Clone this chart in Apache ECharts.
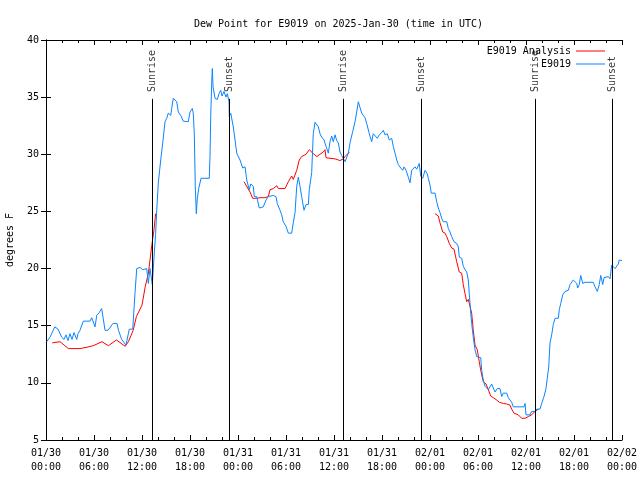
<!DOCTYPE html>
<html>
<head>
<meta charset="utf-8">
<script src="https://cdn.jsdelivr.net/npm/echarts@6/dist/echarts.min.js"></script>
<style>html,body{margin:0;padding:0;background:#fff}#c{width:640px;height:480px}</style>
</head>
<body>
<div id="c"></div>
<script>
// hours since 2025-01-30 00:00 UTC
const blueTimes = [0.09,0.5,1.1,1.5,1.96,2.25,2.5,2.75,3.0,3.25,3.5,3.84,4.0,4.25,4.66,5.5,5.71,6.13,6.34,6.6,6.96,7.38,7.75,8.38,8.88,9.06,9.46,10.0,10.41,10.84,11.13,11.34,11.75,12.1,12.59,12.79,13.0,13.29,13.5,13.7,13.84,14.04,14.34,14.59,14.88,15.09,15.29,15.59,15.71,15.91,16.34,16.54,16.84,17.16,17.79,18.0,18.29,18.41,18.54,18.66,18.79,18.91,19.09,19.38,20.41,20.5,20.59,20.71,20.79,20.88,21.13,21.41,21.63,21.84,22.0,22.25,22.5,22.66,22.88,22.91,23.09,23.41,23.63,23.84,24.25,24.59,24.88,25.09,25.41,25.59,25.91,26.04,26.34,26.66,27.16,27.5,27.79,28.41,28.75,28.91,29.25,29.46,29.66,30.0,30.29,30.71,30.91,31.13,31.34,31.54,31.75,31.96,32.25,32.5,32.79,32.91,33.21,33.41,33.63,33.84,34.04,34.25,34.46,34.75,35.0,35.29,35.5,35.71,35.91,36.13,36.34,36.54,36.75,36.96,37.16,37.38,37.59,37.79,38.0,38.34,38.63,38.84,39.04,39.25,39.46,39.66,39.88,40.09,40.41,40.71,40.91,41.13,41.41,41.66,41.96,42.16,42.38,42.66,42.91,43.21,43.41,43.63,43.84,44.04,44.34,44.59,44.75,45.0,45.29,45.5,45.71,46.13,46.34,46.66,46.84,47.09,47.38,47.66,47.79,48.0,48.16,48.41,48.63,48.84,49.04,49.25,49.46,49.66,50.09,50.29,50.5,50.71,51.0,51.34,51.54,51.66,51.96,52.16,52.38,52.59,52.79,52.91,53.09,53.21,53.41,53.63,53.84,54.04,54.34,54.46,54.66,54.88,55.09,55.29,55.5,55.71,55.91,56.13,56.41,56.75,56.96,57.16,57.59,57.79,58.0,58.21,58.41,59.75,59.88,60.0,60.5,60.71,61.13,61.34,61.75,61.96,62.25,62.5,62.66,62.84,63.0,63.21,63.41,63.63,64.04,64.16,64.34,64.59,64.88,65.29,65.5,65.91,66.13,66.34,66.46,66.66,66.84,67.09,67.38,68.41,68.63,68.91,69.16,69.34,69.59,69.75,70.0,70.29,70.5,70.66,70.71,70.91,71.13,71.34,71.54,71.66,72.0];
const blueValues = [13.6,14.0,14.9,14.7,14.0,13.8,14.2,13.7,14.3,13.8,14.4,13.8,14.3,14.6,15.4,15.4,15.7,14.9,15.9,16.1,16.5,14.6,14.6,15.2,15.2,14.6,13.8,13.3,14.7,14.7,17.9,20.0,20.1,19.9,20.0,18.7,20.0,18.6,21.0,23.0,25.1,27.5,29.5,31.0,32.85,33.15,33.6,33.4,34.0,34.9,34.6,33.7,33.4,32.9,32.85,33.7,34.0,33.6,31.7,27.2,24.8,26.1,27.0,27.9,27.9,29.8,33.3,36.2,37.5,35.9,34.9,34.8,35.3,35.6,35.1,35.5,35.0,35.3,34.6,33.3,33.6,32.4,31.25,30.1,29.5,28.8,28.9,27.75,26.9,27.4,27.2,26.3,26.3,25.3,25.4,26.0,26.3,26.4,26.3,25.7,25.1,24.7,24.1,23.7,23.1,23.1,24.0,24.9,27.2,28.0,27.2,26.3,25.1,25.6,25.6,26.9,28.4,31.8,32.8,32.7,32.4,31.8,31.5,31.25,30.7,30.1,31.1,31.6,31.1,31.7,31.2,31.0,30.2,29.9,30.0,29.35,29.4,30.1,31.0,32.0,32.85,33.7,34.6,34.1,33.6,33.7,33.2,32.7,31.8,31.1,31.8,31.8,31.4,31.7,31.9,32.1,31.7,31.8,31.25,31.4,30.7,30.1,29.5,29.1,28.8,28.6,28.9,28.6,28.0,27.5,28.6,28.9,28.7,29.2,28.1,27.9,28.6,28.3,27.9,27.3,26.6,26.5,26.6,25.85,25.3,24.9,24.4,24.1,24.1,23.5,23.2,22.8,22.35,22.2,21.9,21.0,20.9,20.2,19.9,19.7,19.0,17.8,16.1,15.2,14.0,12.9,12.3,12.2,12.2,11.1,10.25,9.7,9.8,9.4,9.55,9.9,9.8,9.2,9.5,9.5,8.8,9.1,9.1,8.7,8.5,8.3,7.9,7.9,8.2,7.2,7.2,7.5,7.5,7.7,7.7,8.2,8.8,9.5,10.4,11.4,13.5,14.2,15.1,15.65,15.65,16.4,16.95,17.7,18.0,18.1,18.6,19.0,19.15,18.7,18.3,18.6,19.4,18.7,18.8,18.8,18.4,18.0,18.6,19.4,18.6,19.2,19.1,19.3,19.1,19.0,20.3,20.3,20.0,19.9,20.4,20.75,20.7];

const redTimes = [0.79,1.75,2.8,4.25,5.0,5.9,7.0,7.8,8.8,9.5,9.9,10.3,10.9,11.3,12.0,12.4,12.8,13.2,13.5,13.7,14.0,
  24.75,25.5,25.84,26.34,26.75,27.38,27.79,28.0,28.41,28.84,29.04,29.88,30.29,30.71,30.91,31.34,31.66,31.96,32.5,32.91,33.34,33.84,34.25,34.66,34.88,35.0,35.5,36.13,36.75,37.16,37.38,37.5,37.79,37.91,38.2,
  48.63,49.04,49.25,49.59,49.88,50.09,50.41,50.71,51.0,51.34,51.66,51.96,52.16,52.38,52.59,52.79,53.21,53.41,53.63,53.91,54.16,54.34,54.66,55.0,55.29,55.59,55.91,56.34,56.66,57.16,57.59,58.0,58.21,58.5,59.04,59.46,59.88,60.29,60.71,61.13,61.54];
const redValues = [13.5,13.6,13.0,13.0,13.1,13.25,13.6,13.25,13.75,13.4,13.2,13.6,14.6,15.8,16.8,18.4,19.6,21.9,23.4,24.8,null,
  27.6,26.7,26.15,26.15,26.2,26.2,26.3,26.9,27.0,27.25,27.0,27.0,27.6,28.1,27.8,28.6,29.5,29.8,30.0,30.4,30.1,29.8,30.0,30.2,30.4,29.7,29.65,29.6,29.45,29.6,29.8,29.8,30.1,30.2,null,
  24.8,24.6,24.0,23.2,23.1,22.8,22.2,21.8,21.7,20.6,19.7,19.6,18.6,17.8,17.1,17.3,16.1,14.6,13.3,12.9,11.85,11.1,10.1,9.9,9.4,8.85,8.7,8.5,8.3,8.2,8.15,8.05,7.7,7.35,7.2,6.9,6.9,7.05,7.2,7.5,7.7];

const sunTimes = [13.29, 22.91, 37.16, 46.875, 61.13, 70.81];
const sunLabels = ['Sunrise','Sunset','Sunrise','Sunset','Sunrise','Sunset'];
const tickLabels = ['01/30\n00:00','01/30\n06:00','01/30\n12:00','01/30\n18:00','01/31\n00:00','01/31\n06:00','01/31\n12:00','01/31\n18:00','02/01\n00:00','02/01\n06:00','02/01\n12:00','02/01\n18:00','02/02\n00:00'];

const FONT = 'DejaVu Sans Mono';
const sunLineTop = 34.85;
const sunLabelY = 35.45;

const chart = echarts.init(document.getElementById('c'), null, {renderer:'canvas'});
const axisCommon = {
  axisLine:{show:true, lineStyle:{color:'#000', width:1}},
  splitLine:{show:false},
};
chart.setOption({
  animation:false,
  backgroundColor:'#fff',
  textStyle:{fontFamily:FONT, fontSize:10, color:'#000'},
  title:{text:'Dew Point for E9019 on 2025-Jan-30 (time in UTC)', left:189, top:14,
    textStyle:{fontFamily:FONT, fontSize:10, fontWeight:'normal', color:'#000'}},
  legend:[
    {data:['E9019 Analysis'], right:30, top:41, orient:'vertical', align:'right', icon:'rect', itemWidth:29, itemHeight:1,
     textStyle:{fontFamily:FONT, fontSize:10, color:'#000'}},
    {data:['E9019'], right:30, top:54, orient:'vertical', align:'right', icon:'rect', itemWidth:29, itemHeight:1,
     textStyle:{fontFamily:FONT, fontSize:10, color:'#000'}}
  ],
  grid:{left:46, top:40, right:18, bottom:40, containLabel:false, outerBoundsMode:'none'},
  xAxis:[
    Object.assign({type:'value', min:0, max:72, interval:6, position:'bottom',
      axisTick:{show:true, inside:true, length:5, lineStyle:{color:'#000'}},
      minorTick:{show:true, splitNumber:3, length:3, lineStyle:{color:'#000'}},
      axisLabel:{margin:6, lineHeight:14, fontFamily:FONT, fontSize:10, color:'#000',
        formatter:(v)=>tickLabels[Math.round(v/6)] || ''}}, axisCommon),
    Object.assign({type:'value', min:0, max:72, interval:6, position:'top',
      axisTick:{show:true, inside:true, length:5, lineStyle:{color:'#000'}},
      minorTick:{show:true, splitNumber:3, length:3, lineStyle:{color:'#000'}},
      axisLabel:{show:false}}, axisCommon)
  ],
  yAxis:[
    Object.assign({type:'value', min:5, max:40, interval:5, position:'left',
      name:'degrees F', nameLocation:'middle', nameGap:31, nameRotate:90,
      nameTextStyle:{fontFamily:FONT, fontSize:10, color:'#000'},
      axisTick:{show:true, inside:true, length:5, lineStyle:{color:'#000'}},
      axisLabel:{margin:7, fontFamily:FONT, fontSize:10, color:'#000'}}, axisCommon),
    Object.assign({type:'value', min:5, max:40, interval:5, position:'right',
      axisTick:{show:true, inside:true, length:5, lineStyle:{color:'#000'}},
      axisLabel:{show:false}}, axisCommon)
  ],
  series:[
    {name:'sun', type:'scatter', xAxisIndex:0, yAxisIndex:0, symbolSize:1, silent:true,
     itemStyle:{color:'rgba(0,0,0,0)'},
     data: sunTimes.map((t)=>[t, sunLabelY]),
     label:{show:true, position:'inside', rotate:90, align:'left', verticalAlign:'middle',
       fontFamily:FONT, fontSize:10, color:'#000', formatter:(p)=>sunLabels[p.dataIndex]},
     labelLayout:{hideOverlap:false},
     markLine:{silent:true, symbol:['none','none'], animation:false,
       lineStyle:{color:'#000', width:1, type:'solid'}, label:{show:false},
       data: sunTimes.map((t)=>[{coord:[t,5]},{coord:[t,sunLineTop]}])}
    },
    {name:'E9019 Analysis', type:'line', xAxisIndex:0, yAxisIndex:0, showSymbol:false, symbol:'none',
     connectNulls:false, lineStyle:{color:'#ff0000', width:1}, itemStyle:{color:'#ff0000'},
     data: redTimes.map((t,i)=>[t, redValues[i]===null ? '-' : redValues[i]])},
    {name:'E9019', type:'line', xAxisIndex:0, yAxisIndex:0, showSymbol:false, symbol:'none',
     lineStyle:{color:'#0a84ff', width:1}, itemStyle:{color:'#0a84ff'},
     data: blueTimes.map((t,i)=>[t, blueValues[i]])}
  ]
});
</script>
</body>
</html>
